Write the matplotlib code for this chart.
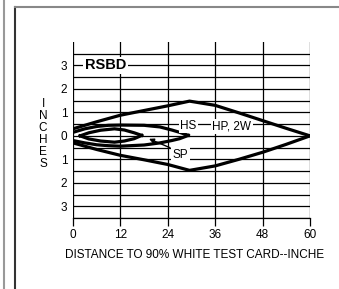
import matplotlib
matplotlib.use("Agg")
import matplotlib.pyplot as plt
from matplotlib.lines import Line2D

plt.rcParams["font.family"] = ["Liberation Sans", "DejaVu Sans"]

# distance ticks and offset ticks
x_ticks = [0, 12, 24, 36, 48, 60]
y_ticks = [3, 2, 1, 0, -1, -2, -3]
y_tick_labels = ["3", "2", "1", "0", "1", "2", "3"]

# HP, 2W pattern (outer)
hp_x = [0, 6, 12, 18, 24, 29.5, 36, 42, 48, 54, 60]
hp_y_up = [0.3, 0.6, 0.88, 1.08, 1.28, 1.48, 1.3, 0.98, 0.65, 0.32, 0.0]
hp_y_lo = [-0.3, -0.58, -0.83, -1.02, -1.22, -1.47, -1.28, -1.0, -0.7, -0.36, 0.0]

# HS pattern
hs_x = [0, 3, 6, 9, 12, 18, 22, 25, 27, 29.2]
hs_y_up = [0.15, 0.3, 0.4, 0.45, 0.46, 0.45, 0.38, 0.25, 0.15, 0.02]
hs_y_lo = [-0.2, -0.3, -0.38, -0.42, -0.44, -0.39, -0.3, -0.2, -0.12, 0.02]

# SP pattern
sp_x = [1.8, 4, 7, 10.5, 13, 15.5, 17.4]
sp_y_up = [0.0, 0.13, 0.24, 0.3, 0.25, 0.13, 0.02]
sp_y_lo = [0.0, -0.13, -0.22, -0.27, -0.22, -0.12, 0.02]

fig = plt.figure(figsize=(3.39, 2.89), dpi=100)
ax = fig.add_axes([0.2153, 0.2457, 0.6991, 0.609])

ax.set_xlim(0, 60)
ax.set_ylim(-3.5, 4.0)

# grid
for xv in x_ticks:
    ax.axvline(xv, color="black", lw=0.9, zorder=1)
yv = -3.5
while yv <= 3.51:
    ax.axhline(yv, color="black", lw=0.9, zorder=1)
    yv += 0.5

lw = 2.3
ax.plot(hp_x, hp_y_up, color="black", lw=lw, zorder=3)
ax.plot(hp_x, hp_y_lo, color="black", lw=lw, zorder=3)
ax.plot(hs_x, hs_y_up, color="black", lw=lw, zorder=3)
ax.plot(hs_x, hs_y_lo, color="black", lw=lw, zorder=3)
ax.plot(sp_x, sp_y_up, color="black", lw=lw, zorder=3)
ax.plot(sp_x, sp_y_lo, color="black", lw=lw, zorder=3)

box = dict(facecolor="white", edgecolor="none", pad=1.0)
ax.text(3.0, 3.0, "RSBD", fontsize=10.5, fontweight="bold", ha="left", va="center",
        bbox=box, zorder=4)
ax.text(29.2, 0.43, "HS", fontsize=8.5, ha="center", va="center", bbox=box, zorder=4)
ax.text(40.2, 0.41, "HP, 2W", fontsize=8.5, ha="center", va="center", bbox=box, zorder=4)
ax.text(27.2, -0.8, "SP", fontsize=8.5, ha="center", va="center", bbox=box, zorder=4)
ax.annotate("", xy=(18.6, -0.08), xytext=(25.2, -0.55),
            arrowprops=dict(arrowstyle="-|>", color="black", lw=1.0,
                            mutation_scale=7), zorder=4)

for s in ["top", "right", "left"]:
    ax.spines[s].set_visible(False)
ax.spines["bottom"].set_position(("data", -3.5))
ax.spines["bottom"].set_linewidth(0.9)

ax.set_xticks(x_ticks)
ax.set_xticklabels([str(v) for v in x_ticks], fontsize=8.5)
ax.tick_params(axis="x", direction="out", length=6, width=0.9, pad=2)
ax.set_yticks(y_ticks)
ax.set_yticklabels(y_tick_labels, fontsize=8.5)
ax.tick_params(axis="y", length=0, pad=4)

fig.text(43 / 339, 1 - 134 / 289, "I\nN\nC\nH\nE\nS", fontsize=8.5, ha="center",
         va="center", linespacing=1.0)
fig.text(65 / 339, 1 - 255 / 289, "DISTANCE TO 90% WHITE TEST CARD--INCHE",
         fontsize=8.5, ha="left", va="center")

# outer frame
fig.add_artist(Line2D([3.5 / 339, 3.5 / 339], [0, 1], color="#999999", lw=1.5))
fig.add_artist(Line2D([14.5 / 339, 14.5 / 339], [0, 1 - 6.5 / 289], color="#333333", lw=1.5))
fig.add_artist(Line2D([14.5 / 339, 1], [1 - 7 / 289, 1 - 7 / 289], color="#888888", lw=1.5))

fig.savefig("out.png", dpi=100)
